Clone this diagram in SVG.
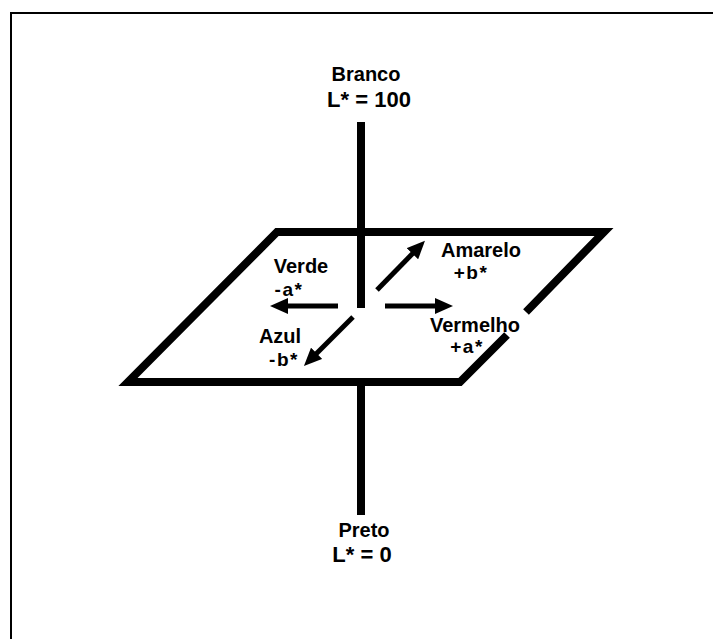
<svg xmlns="http://www.w3.org/2000/svg" width="713" height="639" viewBox="0 0 713 639">
<style>
.t{font-family:"Liberation Sans",Arial,sans-serif;font-weight:bold;fill:#000;text-anchor:middle}
.s{font-size:20px}
.g{font-size:19px;letter-spacing:1.5px}
.b{font-size:22px}
.ax{stroke:#000;stroke-width:8;fill:none}
.ar{stroke:#000;stroke-width:5;fill:none;marker-end:url(#ah)}
</style>
<defs>
<marker id="ah" markerUnits="userSpaceOnUse" viewBox="0 0 18 16" markerWidth="18" markerHeight="16" refX="8" refY="8" orient="auto">
<path d="M0,0 L18,8 L0,16 Z" fill="#000"/>
</marker>
</defs>
<rect width="713" height="639" fill="#fff"/>
<path d="M11,639 V13 H713" stroke="#000" stroke-width="2" fill="none"/>
<g id="connectors">
<path class="ax" d="M361,122 V308"/>
<path class="ax" d="M361,382 V515"/>
<path class="ax" d="M526,312 L604,232 L277,232 L128,382 L460,382 L507,335" stroke-linejoin="miter"/>
<path class="ar" d="M338,306 H280"/>
<path class="ar" d="M385,306 H443"/>
<path class="ar" d="M377,290 L418,248"/>
<path class="ar" d="M353,317 L311,359"/>
</g>
<g id="branco"><text class="t s" x="366" y="81">Branco</text><text class="t b" x="369" y="107">L* = 100</text></g>
<g id="preto"><text class="t s" x="364" y="537">Preto</text><text class="t b" x="362" y="562">L* = 0</text></g>
<g id="verde"><text class="t s" x="301" y="273">Verde</text><text class="t g" x="289" y="296">-a*</text></g>
<g id="amarelo"><text class="t s" x="481" y="257">Amarelo</text><text class="t g" x="471" y="279">+b*</text></g>
<g id="vermelho"><text class="t s" x="475" y="332">Vermelho</text><text class="t g" x="467" y="353">+a*</text></g>
<g id="azul"><text class="t s" x="280" y="343">Azul</text><text class="t g" x="284" y="366">-b*</text></g>
</svg>
